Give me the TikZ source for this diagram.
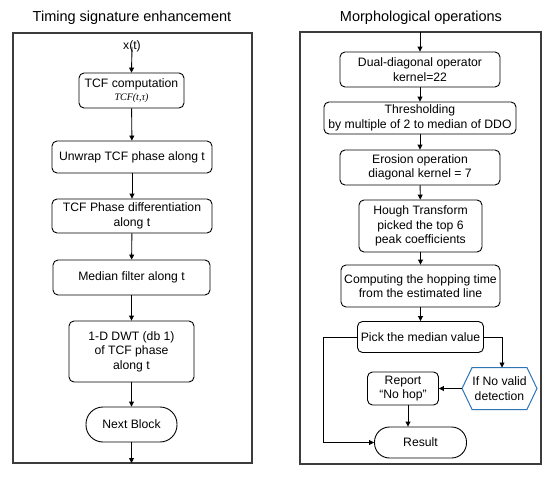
\documentclass[tikz,border=0pt]{standalone}
\usepackage{fontspec}
\setmainfont{Liberation Sans}
\newfontfamily\serifit{Liberation Serif}
\usetikzlibrary{arrows.meta,calc}
\definecolor{hexblue}{RGB}{46,117,182}
\definecolor{framegray}{RGB}{60,60,60}
\begin{document}
\begin{tikzpicture}[x=1pt,y=-1pt,
  box/.style={draw=black,line width=0.9pt,rounded corners=5pt,align=center,inner sep=0pt,
    font=\fontsize{12.2}{14.5}\selectfont},
  stadium/.style={box,rounded corners=15pt},
  plain/.style={align=center,inner sep=0pt,font=\fontsize{12.2}{14.5}\selectfont},
  titletext/.style={inner sep=0pt,font=\fontsize{14.5}{17}\selectfont},
  frame/.style={draw=framegray,line width=1.3pt},
  arr/.style={line width=0.9pt,-{Triangle[length=5pt,width=5pt]}},
  ln/.style={line width=0.9pt}]
\useasboundingbox (0,0) rectangle (550,477);
% frames
\draw[frame] (13,33) rectangle (252,463);
\draw[frame] (300,32) rectangle (541,464);
% titles
\node[titletext] (t1) at (132,18) {Timing signature enhancement};
\node[titletext] (t2) at (421,18) {Morphological operations};
% left panel
\node[plain] (xt) at (132,46) {x(t)};
\node[box,minimum width=105pt,minimum height=35pt] (tcf) at (131.5,90.5)
  {TCF computation\\[-2pt]{\serifit\itshape\fontsize{10}{12}\selectfont TCF(t,τ)}};
\node[box,minimum width=160pt,minimum height=32pt] (unwrap) at (132,157) {Unwrap TCF phase along t};
\node[box,minimum width=160pt,minimum height=34pt] (diff) at (132,216) {TCF Phase differentiation\\along t};
\node[box,minimum width=157pt,minimum height=35pt] (med) at (131.5,277.5) {Median filter along t};
\node[box,minimum width=125pt,minimum height=61pt] (dwt) at (131.5,351.5) {1-D DWT (db 1)\\of TCF phase\\along t};
\node[stadium,minimum width=91pt,minimum height=35pt,rounded corners=17pt] (next) at (131.5,424.5) {Next Block};
\coordinate (lend) at (131.5,463);
\draw[arr] ([yshift=5pt]xt.south) -- (tcf.north);
\draw[arr] (tcf) -- (unwrap);
\draw[arr] (unwrap) -- (diff);
\draw[arr] (diff) -- (med);
\draw[arr] (med) -- (dwt);
\draw[arr] (dwt) -- (next);
\draw[arr] (next) -- (lend);
% right panel
\coordinate (rtop) at (420,32);
\node[box,minimum width=160pt,minimum height=35pt] (ddo) at (420,69.5) {Dual-diagonal operator\\kernel=22};
\node[box,minimum width=192pt,minimum height=32pt] (thr) at (420,118) {Thresholding\\by multiple of 2 to median of DDO};
\node[box,minimum width=160pt,minimum height=35pt] (ero) at (420,167.5) {Erosion operation\\diagonal kernel = 7};
\node[box,minimum width=123pt,minimum height=52pt] (hough) at (420.5,226) {Hough Transform\\picked the top 6\\peak coefficients};
\node[box,minimum width=159pt,minimum height=42pt] (comp) at (420.5,286) {Computing the hopping time\\from the estimated line};
\node[box,minimum width=126pt,minimum height=31pt] (pick) at (420.5,337) {Pick the median value};
\node[plain,minimum width=74.5pt,minimum height=41.6pt] (hex) at (499.5,388.5) {If No valid\\detection};
\draw[hexblue,line width=1pt] (hex.west) -- ([xshift=10pt]hex.north west) -- ([xshift=-10pt]hex.north east)
  -- (hex.east) -- ([xshift=-10pt]hex.south east) -- ([xshift=10pt]hex.south west) -- cycle;
\node[box,minimum width=71pt,minimum height=33pt] (rep) at (403,388.5) {Report\\“No hop”};
\node[stadium,minimum width=92pt,minimum height=31pt,rounded corners=15pt] (res) at (420.5,442.5) {Result};
\draw[arr] (rtop) -- (ddo.north);
\draw[arr] (ddo) -- (thr);
\draw[arr] (thr) -- (ero);
\draw[arr] (ero) -- (hough);
\draw[arr] (hough) -- (comp);
\draw[arr] (comp) -- (pick);
\draw[arr] (pick.east) -| ([xshift=2.5pt]hex.north);
\draw[arr] (hex.west) -- (rep.east);
\draw[arr] ([xshift=5pt]rep.south) -- ([xshift=5pt]rep.south |- res.north);
\coordinate (lbend) at (323,337);
\draw[arr] (pick.west) -- (lbend) |- (res.west);
\end{tikzpicture}
\end{document}
